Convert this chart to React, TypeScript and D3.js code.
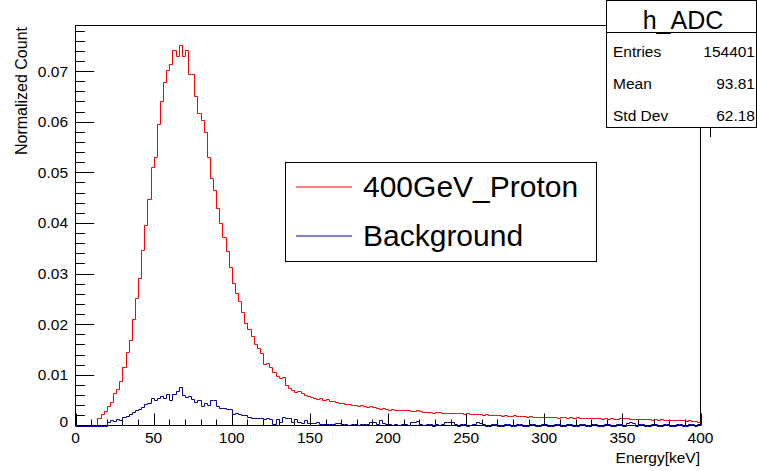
import React from "react";
import * as d3 from "d3";

// Histogram: 200 bins of width 2 keV over 0–400 keV
const binEdgesRange = [0, 400];
const binCount = 200;

const protonValues = [
  0, 0, 0, 0, 0, 0, 0, 0.00145, 0.0022, 0.0029,
  0.0039, 0.0047, 0.0064, 0.0072, 0.0087, 0.0115, 0.0146, 0.0169, 0.0211, 0.0251,
  0.0291, 0.0347, 0.0396, 0.0447, 0.0511, 0.0531, 0.0596, 0.064, 0.0679, 0.0702,
  0.0713, 0.0741, 0.073, 0.0752, 0.073, 0.0742, 0.0694, 0.0694, 0.065, 0.0617,
  0.0604, 0.0579, 0.053, 0.0489, 0.0465, 0.0429, 0.04, 0.0373, 0.0344, 0.0313,
  0.0281, 0.0262, 0.0245, 0.0224, 0.0203, 0.0191, 0.0176, 0.0161, 0.0153, 0.0143,
  0.0122, 0.0124, 0.0116, 0.0106, 0.0097, 0.0094, 0.0096, 0.008, 0.0074, 0.0071,
  0.0067, 0.0068, 0.0064, 0.0061, 0.0058, 0.0057, 0.0055, 0.0053, 0.0055, 0.0051,
  0.0052, 0.0049, 0.0049, 0.0046, 0.0045, 0.0044, 0.0043, 0.0043, 0.004, 0.0041,
  0.0039, 0.004, 0.0038, 0.0036, 0.0038, 0.0036, 0.0034, 0.0033, 0.0034, 0.0032,
  0.0031, 0.0032, 0.0031, 0.003, 0.0031, 0.003, 0.0031, 0.0029, 0.0028, 0.003,
  0.0028, 0.0027, 0.0026, 0.0027, 0.0025, 0.0026, 0.0026, 0.0025, 0.0024, 0.0025,
  0.0025, 0.0024, 0.0025, 0.0024, 0.0023, 0.0024, 0.0022, 0.0022, 0.0023, 0.0022,
  0.0021, 0.0022, 0.002, 0.0021, 0.002, 0.0021, 0.0019, 0.002, 0.0019, 0.0019,
  0.002, 0.0018, 0.0019, 0.0018, 0.0017, 0.0018, 0.0016, 0.0017, 0.0016, 0.0017,
  0.0017, 0.0016, 0.0017, 0.0016, 0.0015, 0.0016, 0.0016, 0.0015, 0.0016, 0.0015,
  0.0016, 0.0015, 0.0014, 0.0015, 0.0015, 0.0014, 0.0015, 0.0014, 0.0013, 0.0014,
  0.0013, 0.0014, 0.0012, 0.0013, 0.0014, 0.0015, 0.0014, 0.0013, 0.0012, 0.0013,
  0.0012, 0.0013, 0.0012, 0.0012, 0.0011, 0.0012, 0.0011, 0.0012, 0.0011, 0.0011,
  0.001, 0.0011, 0.0011, 0.001, 0.0011, 0.0009, 0.001, 0.0008, 0.0008, 0.0007,
];

const backgroundValues = [
  0, 0, 0, 0, 0, 0, 0, 0, 0, 0,
  0.0007, 0.001, 0.0008, 0.0012, 0.0011, 0.0016, 0.0019, 0.0022, 0.0026, 0.003,
  0.0033, 0.0037, 0.0042, 0.0044, 0.0054, 0.005, 0.0054, 0.0059, 0.0054, 0.0063,
  0.005, 0.0062, 0.0068, 0.0076, 0.0061, 0.0056, 0.0059, 0.0052, 0.0046, 0.0051,
  0.0039, 0.0044, 0.0041, 0.0051, 0.0051, 0.0038, 0.0034, 0.0034, 0.0033, 0.0033,
  0.0023, 0.0024, 0.0023, 0.002, 0.002, 0.0016, 0.0014, 0.0015, 0.0014, 0.0015,
  0.0012, 0.0015, 0.0012, 0.0003, 0.0012, 0.0007, 0.0016, 0.0015, 0.0015, 0.0007,
  0.0012, 0.0007, 0.0005, 0.0011, 0.0005, 0.0004, 0.0004, 0.0007, 0.0003, 0.0003,
  0.0002, 0.0003, 0.0002, 0.0005, 0.0005, 0.0002, 0.0003, 0.0001, 0.0002, 0.0002,
  0.0001, 0.0002, 0.0002, 0.0003, 0.0007, 0.0006, 0.0003, 0.001, 0.0004, 0.0002,
  0.0002, 0.0001, 0.0002, 0.0001, 0.0002, 0.0002, 0.0001, 0.0007, 0.0006, 0.0008,
  0.0002, 0.0001, 0.0002, 0.0002, 0, 0.0002, 0.0001, 0.0002, 0.0006, 0.0007,
  0.0006, 0.0002, 0, 0.0002, 0.0002, 0, 0.0001, 0.0002, 0.0006, 0.0004,
  0.0002, 0, 0, 0.0002, 0.0002, 0, 0, 0.0002, 0.0002, 0,
  0, 0.0002, 0.0002, 0, 0, 0.0002, 0.0002, 0, 0, 0.0002,
  0.0002, 0, 0, 0.0002, 0.0002, 0, 0, 0.0002, 0.0002, 0,
  0, 0.0002, 0.0002, 0, 0, 0.0002, 0.0002, 0, 0, 0.0002,
  0.0002, 0, 0, 0.0002, 0.0002, 0, 0.0005, 0.0007, 0.0005, 0,
  0.0002, 0.0002, 0, 0, 0.0002, 0.0002, 0, 0, 0.0002, 0.0002,
  0, 0, 0.0002, 0.0002, 0, 0, 0.0002, 0.0002, 0, 0.0002,
];

const yMajorTicks = [0, 0.01, 0.02, 0.03, 0.04, 0.05, 0.06, 0.07];
const yTickLabels = ["0", "0.01", "0.02", "0.03", "0.04", "0.05", "0.06", "0.07"];
const xMajorTicks = [0, 50, 100, 150, 200, 250, 300, 350, 400];
const xTickLabels = ["0", "50", "100", "150", "200", "250", "300", "350", "400"];
const yMinorStep = 0.002;
const xMinorStep = 10;
const yMax = 0.079;

const seriesNames = ["400GeV_Proton", "Background"];
const seriesColors = ["#ff0000", "#000099"];

const statsTitle = "h_ADC";
const statsLabels = ["Entries", "Mean", "Std Dev"];
const statsValues = ["154401", "93.81", "62.18"];

const xTitle = "Energy[keV]";
const yTitle = "Normalized Count";

const FONT = "'Liberation Sans', Arial, Helvetica, sans-serif";

export default function App() {
  const W = 757;
  const H = 471;
  const left = 75.5;
  const right = 700.5;
  const top = 25.5;
  const bottom = 425.5;

  const x = d3.scaleLinear().domain(binEdgesRange).range([left, right]);
  const y = d3.scaleLinear().domain([0, yMax]).range([bottom, top]);
  const binW = (binEdgesRange[1] - binEdgesRange[0]) / binCount;

  const histPath = (vals: number[]) => {
    const pts: [number, number][] = vals.map((v, i) => [binEdgesRange[0] + i * binW, v]);
    pts.push([binEdgesRange[1], vals[vals.length - 1]]);
    return d3
      .line<[number, number]>()
      .x((d) => Math.round(x(d[0])) + 0.5)
      .y((d) => Math.round(y(d[1])) + 0.5)
      .curve(d3.curveStepAfter)(pts) as string;
  };

  const yMinor: number[] = [];
  for (let v = 0; v <= yMax + 1e-9; v += yMinorStep) {
    const r = Math.round(v * 1000) / 1000;
    if (!yMajorTicks.some((m) => Math.abs(m - r) < 1e-9)) yMinor.push(r);
  }
  const xMinor: number[] = [];
  for (let v = 0; v <= 400; v += xMinorStep) {
    if (!xMajorTicks.includes(v)) xMinor.push(v);
  }

  const yMajLen = 18.75;
  const yMinLen = 9.4;
  const xMajLen = 12;
  const xMinLen = 6;

  return (
    <svg
      width={W}
      height={H}
      style={{ position: "absolute", left: 0, top: 0, background: "#fff" }}
      fontFamily={FONT}
    >
      <rect x={0} y={0} width={W} height={H} fill="#fff" />
      {/* proton histogram */}
      <path d={histPath(protonValues)} fill="none" stroke={seriesColors[0]} strokeWidth={1} />

      {/* frame */}
      <rect x={left} y={top} width={right - left} height={bottom - top} fill="none" stroke="#000" strokeWidth={1} />

      {/* y ticks */}
      {yMajorTicks.map((t) => (
        <line key={"ym" + t} x1={left} x2={left + yMajLen} y1={Math.round(y(t)) + 0.5} y2={Math.round(y(t)) + 0.5} stroke="#000" />
      ))}
      {yMinor.map((t) => (
        <line key={"yn" + t} x1={left} x2={left + yMinLen} y1={Math.round(y(t)) + 0.5} y2={Math.round(y(t)) + 0.5} stroke="#000" />
      ))}
      {yMajorTicks.map((t, i) => (
        <text
          key={"yl" + t}
          x={68}
          y={t === 0 ? 427 : y(t) + 5.5}
          textAnchor="end"
          fontSize={15.5}
          fill="#000"
        >
          {yTickLabels[i]}
        </text>
      ))}

      {/* x ticks */}
      {xMajorTicks.map((t) => (
        <line key={"xm" + t} x1={Math.round(x(t)) + 0.5} x2={Math.round(x(t)) + 0.5} y1={bottom} y2={bottom - xMajLen} stroke="#000" />
      ))}
      {xMinor.map((t) => (
        <line key={"xn" + t} x1={Math.round(x(t)) + 0.5} x2={Math.round(x(t)) + 0.5} y1={bottom} y2={bottom - xMinLen} stroke="#000" />
      ))}
      {xMajorTicks.map((t, i) => (
        <text key={"xl" + t} x={x(t)} y={442.5} textAnchor="middle" fontSize={15.5} fill="#000">
          {xTickLabels[i]}
        </text>
      ))}

      {/* background histogram */}
      <path d={histPath(backgroundValues)} fill="none" stroke={seriesColors[1]} strokeWidth={1} />

      {/* axis titles */}
      <text x={700} y={463} textAnchor="end" fontSize={15.5} fill="#000">
        {xTitle}
      </text>
      <text transform="translate(27,27) rotate(-90)" textAnchor="end" fontSize={16} fill="#000">
        {yTitle}
      </text>

      {/* legend */}
      <rect x={285.5} y={162.5} width={311} height={99} fill="#fff" stroke="#000" />
      {seriesNames.map((n, i) => (
        <g key={n}>
          <line x1={296} x2={352} y1={187 + i * 49} y2={187 + i * 49} stroke={seriesColors[i]} strokeWidth={1} />
          <text x={363} y={197 + i * 49} fontSize={30} fill="#000">
            {n}
          </text>
        </g>
      ))}

      {/* stats box */}
      <line x1={710.5} x2={710.5} y1={128} y2={137} stroke="#000" />
      <rect x={606.5} y={0.5} width={150} height={127} fill="#fff" stroke="#000" />
      <line x1={606.5} x2={756.5} y1={32.5} y2={32.5} stroke="#000" />
      <text x={683} y={29} textAnchor="middle" fontSize={25} fill="#000">
        {statsTitle}
      </text>
      {statsLabels.map((l, i) => (
        <g key={l}>
          <text x={613} y={57.3 + i * 31.7} fontSize={15.5} fill="#000">
            {l}
          </text>
          <text x={755} y={57.3 + i * 31.7} textAnchor="end" fontSize={15.5} fill="#000">
            {statsValues[i]}
          </text>
        </g>
      ))}
    </svg>
  );
}
